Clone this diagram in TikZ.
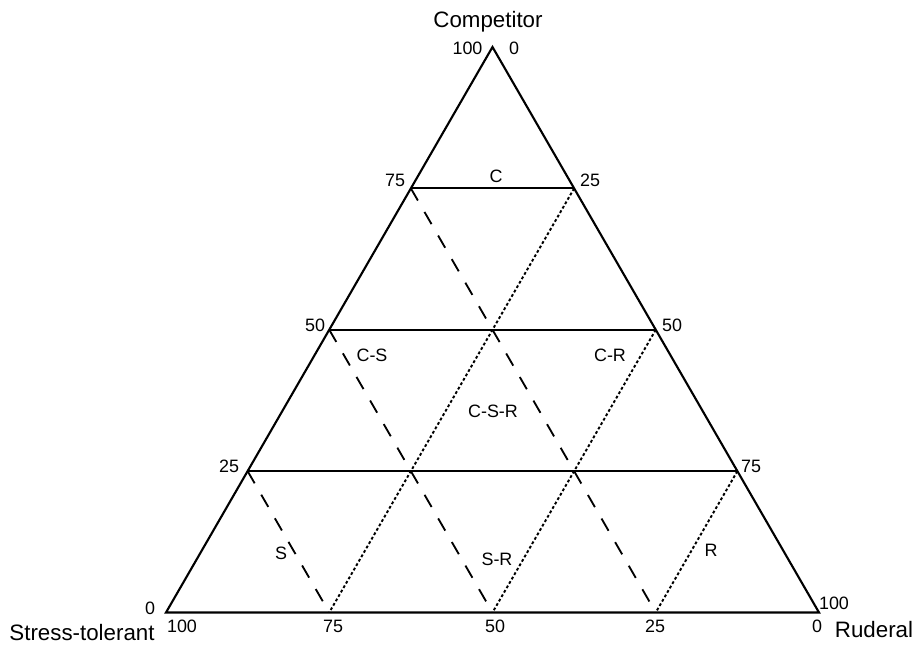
\documentclass[tikz,border=0pt]{standalone}
\usepackage{fontspec}
\setmainfont{Liberation Sans}
\usepackage{tikz}
\usetikzlibrary{calc}

\begin{document}
\begin{tikzpicture}[
x=0.02cm, y=-0.02cm,
sideline/.style={line width=1.2pt, line join=miter},
levelline/.style={line width=1pt},
sline/.style={line width=1.05pt, dash pattern=on 8pt off 7.5pt},
rline/.style={line width=1.1pt, dash pattern=on 1.6pt off 1.3pt},
axis/.style={anchor=base, inner sep=0pt, font=\fontsize{12.7}{15}\selectfont},
num/.style={anchor=base, inner sep=0pt, font=\fontsize{10.2}{12}\selectfont},
tag/.style={anchor=base, inner sep=0pt, font=\fontsize{10.2}{12}\selectfont}
]
\useasboundingbox (0,0) rectangle (920,645);

% corners of the triangle
\coordinate (comp) at (492.5,47);
\coordinate (stress) at (166,612.5);
\coordinate (rud) at (819,612.5);

% points on the three sides
\coordinate (l75) at ($(stress)!0.75!(comp)$);
\coordinate (l50) at ($(stress)!0.50!(comp)$);
\coordinate (l25) at ($(stress)!0.25!(comp)$);
\coordinate (r25) at ($(rud)!0.75!(comp)$);
\coordinate (r50) at ($(rud)!0.50!(comp)$);
\coordinate (r75) at ($(rud)!0.25!(comp)$);
\coordinate (b75) at ($(stress)!0.25!(rud)$);
\coordinate (b50) at ($(stress)!0.50!(rud)$);
\coordinate (b25) at ($(stress)!0.75!(rud)$);

\draw[levelline] (l75) -- (r25);
\draw[levelline] (l50) -- (r50);
\draw[levelline] (l25) -- (r75);

\draw[sline] (l75) -- (b25);
\draw[sline] (l50) -- (b50);
\draw[sline] (l25) -- (b75);

\draw[rline] (r25) -- (b75);
\draw[rline] (r50) -- (b50);
\draw[rline] (r75) -- (b25);

\draw[sideline] (comp) -- (stress) -- (rud) -- cycle;

% corner names
\node[axis] (tcomp) at (488,28) {Competitor};
\node[axis] (tstress) at (82,640) {Stress-tolerant};
\node[axis] (trud) at (874,637) {Ruderal};

% scale numbers
\node[num] (n1) at (467.5,55) {100};
\node[num] (n2) at (514,55) {0};
\node[num] (n3) at (395,187) {75};
\node[num] (n4) at (590,187) {25};
\node[num] (n5) at (315,332) {50};
\node[num] (n6) at (672,332) {50};
\node[num] (n7) at (229,472) {25};
\node[num] (n8) at (751,472) {75};
\node[num] (n9) at (150,614) {0};
\node[num] (n10) at (182,632) {100};
\node[num] (n11) at (333,632) {75};
\node[num] (n12) at (495,632) {50};
\node[num] (n13) at (655,632) {25};
\node[num] (n14) at (817,632) {0};
\node[num] (n15) at (834,609) {100};

% strategy regions
\node[tag] (rc) at (496,183) {C};
\node[tag] (rcs) at (372,361) {C-S};
\node[tag] (rcr) at (610,361) {C-R};
\node[tag] (rcsr) at (493,418) {C-S-R};
\node[tag] (rs) at (281,559) {S};
\node[tag] (rsr) at (497,565) {S-R};
\node[tag] (rr) at (711,556) {R};

\end{tikzpicture}
\end{document}
